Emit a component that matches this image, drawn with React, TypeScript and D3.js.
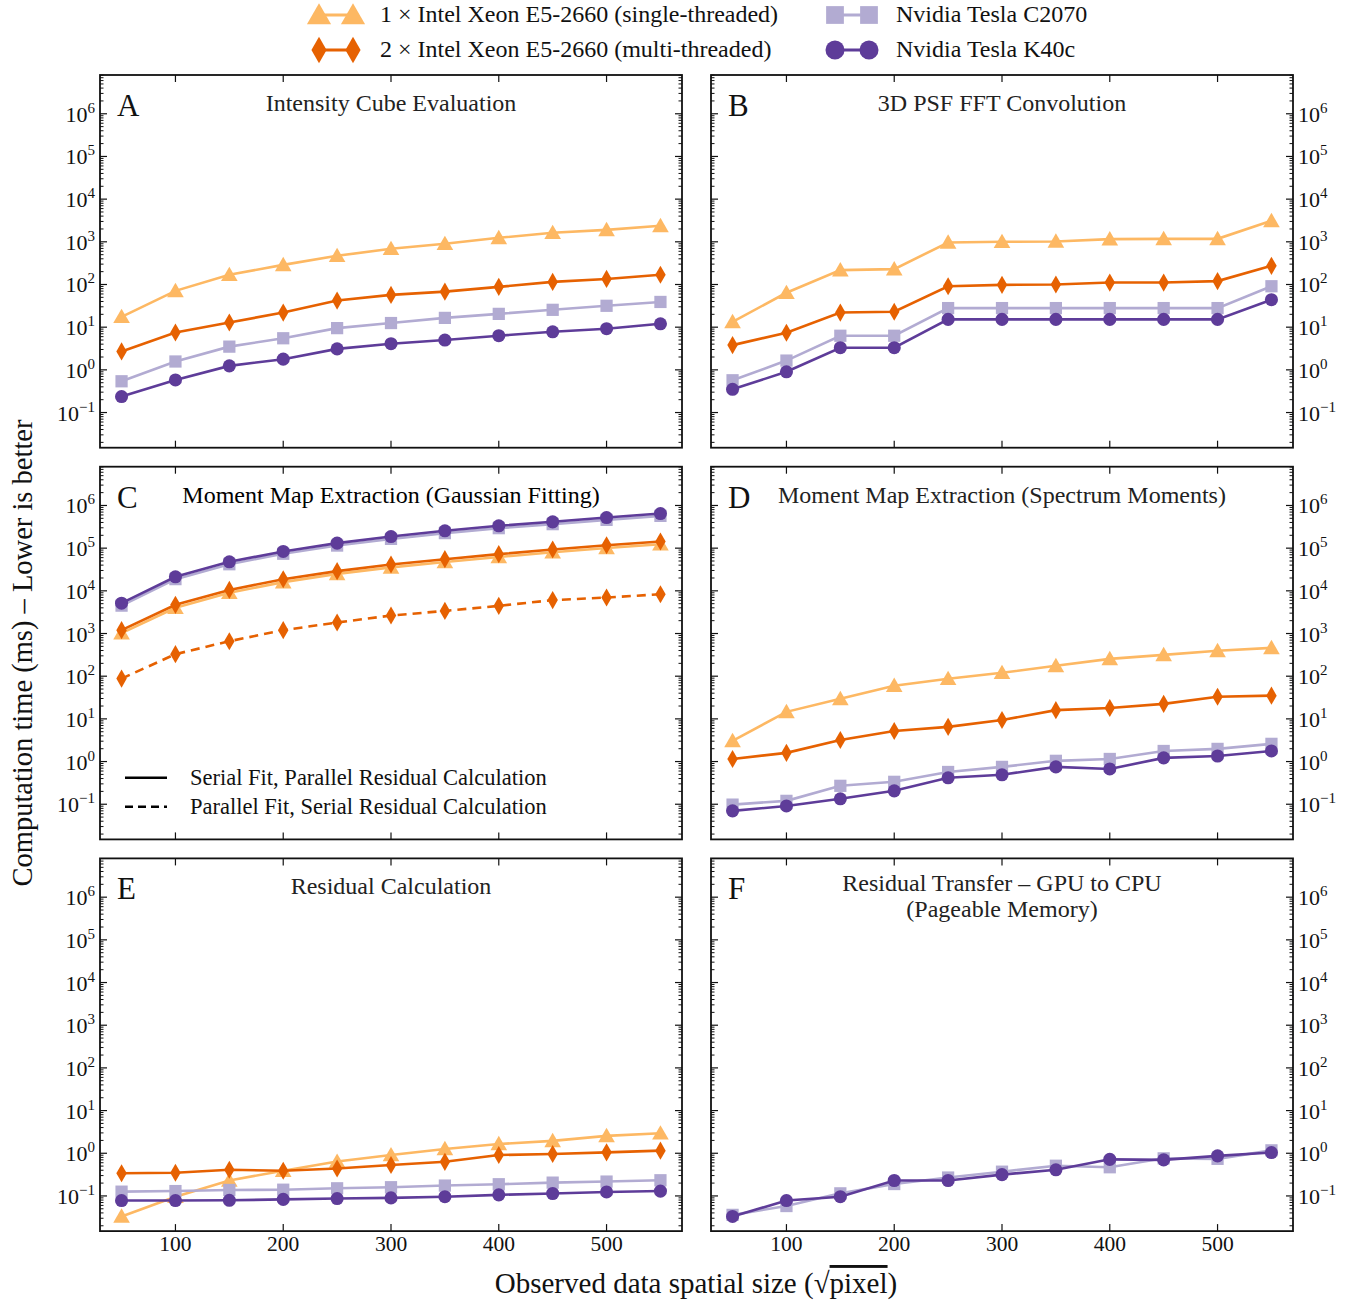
import React from "react";
import * as d3 from "d3";

// ---------- data ----------
const sizes = [50, 100, 150, 200, 250, 300, 350, 400, 450, 500, 550];

const seriesNames = [
  "1 × Intel Xeon E5-2660 (single-threaded)",
  "2 × Intel Xeon E5-2660 (multi-threaded)",
  "Nvidia Tesla C2070",
  "Nvidia Tesla K40c",
];

// Panel A: Intensity Cube Evaluation
const aXeon1 = [17.5, 71, 169, 288, 470, 686, 900, 1240, 1630, 1900, 2370];
const aXeon2 = [2.7, 7.5, 12.9, 22, 42, 57, 68, 88, 115, 135, 169];
const aC2070 = [0.54, 1.57, 3.5, 5.5, 9.5, 12.5, 16.5, 20.5, 25.5, 31.7, 39];
const aK40 = [0.237, 0.58, 1.24, 1.78, 3.1, 4.1, 5.0, 6.3, 7.8, 9.2, 12];

// Panel B: 3D PSF FFT Convolution
const bXeon1 = [13.3, 64, 217, 229, 965, 1000, 1018, 1155, 1175, 1175, 3100];
const bXeon2 = [3.8, 7.4, 22, 23, 91, 98, 100, 111, 111, 120, 274];
const bC2070 = [0.57, 1.65, 6.3, 6.3, 28, 28, 28, 28, 28, 28, 91];
const bK40 = [0.35, 0.9, 3.3, 3.3, 15.2, 15.2, 15.2, 15.2, 15.2, 15.2, 44];

// Panel C: Moment Map Extraction (Gaussian Fitting) – serial fit
const cXeon1 = [1020, 4000, 9000, 16000, 25000, 35500, 47500, 62000, 80000, 101000, 123000];
const cXeon2 = [1200, 4700, 10500, 18700, 28900, 41400, 55200, 72300, 93000, 117000, 143000];
const cC2070 = [4500, 18800, 42000, 74000, 115000, 165000, 225000, 294000, 365000, 460000, 570000];
const cK40 = [5130, 21300, 47900, 83700, 131000, 187000, 255000, 334000, 414000, 522000, 648000];
// Panel C: parallel fit, serial residual (multi-threaded Xeon)
const cXeon2Parallel = [88, 328, 660, 1200, 1810, 2640, 3380, 4450, 6060, 6970, 8300];

// Panel D: Moment Map Extraction (Spectrum Moments)
const dXeon1 = [3.06, 14.6, 29.5, 60, 87, 120, 175, 255, 316, 393, 462];
const dXeon2 = [1.15, 1.6, 3.2, 5.2, 6.5, 9.4, 16, 18, 22.5, 33, 35];
const dC2070 = [0.098, 0.12, 0.27, 0.335, 0.57, 0.75, 1.04, 1.15, 1.77, 1.98, 2.6];
const dK40 = [0.07, 0.091, 0.134, 0.206, 0.416, 0.49, 0.75, 0.67, 1.22, 1.35, 1.77];

// Panel E: Residual Calculation
const eXeon1 = [0.033, 0.096, 0.23, 0.39, 0.64, 0.91, 1.26, 1.65, 1.95, 2.55, 2.94];
const eXeon2 = [0.34, 0.35, 0.41, 0.39, 0.44, 0.53, 0.63, 0.91, 0.96, 1.05, 1.15];
const eC2070 = [0.126, 0.13, 0.138, 0.14, 0.151, 0.16, 0.175, 0.188, 0.205, 0.217, 0.233];
const eK40 = [0.078, 0.078, 0.079, 0.083, 0.087, 0.09, 0.096, 0.106, 0.114, 0.124, 0.13];

// Panel F: Residual Transfer – GPU to CPU (Pageable Memory)
const fC2070 = [0.036, 0.058, 0.115, 0.19, 0.27, 0.37, 0.51, 0.47, 0.76, 0.74, 1.17];
const fK40 = [0.033, 0.078, 0.096, 0.23, 0.23, 0.316, 0.41, 0.72, 0.7, 0.87, 1.04];

const panelLetters = ["A", "B", "C", "D", "E", "F"];
const panelTitles = [
  ["Intensity Cube Evaluation"],
  ["3D PSF FFT Convolution"],
  ["Moment Map Extraction (Gaussian Fitting)"],
  ["Moment Map Extraction (Spectrum Moments)"],
  ["Residual Calculation"],
  ["Residual Transfer – GPU to CPU", "(Pageable Memory)"],
];

const xTicks = [100, 200, 300, 400, 500];
const yExponents = [-1, 0, 1, 2, 3, 4, 5, 6];

const styleLegend = [
  "Serial Fit, Parallel Residual Calculation",
  "Parallel Fit, Serial Residual Calculation",
];

// ---------- styling ----------
const colors = ["#fdb863", "#e66101", "#b2abd2", "#5e3c99"];
const FONT = "'Liberation Serif', 'Times New Roman', serif";

const W = 1358;
const H = 1302;
const colLeft = [100, 711];
const rowTop = [75, 466.7, 858.4];
const PW = 582;
const PH = 372.7;

const xScaleBase = d3.scaleLinear().domain([30, 570]).range([0, PW]);
const yScaleBase = d3.scaleLog().domain([0.015, 8.1e6]).range([PH, 0]);

type Series = { idx: number; values: number[]; dashed?: boolean };

const panels: Series[][] = [
  [
    { idx: 0, values: aXeon1 },
    { idx: 1, values: aXeon2 },
    { idx: 2, values: aC2070 },
    { idx: 3, values: aK40 },
  ],
  [
    { idx: 0, values: bXeon1 },
    { idx: 1, values: bXeon2 },
    { idx: 2, values: bC2070 },
    { idx: 3, values: bK40 },
  ],
  [
    { idx: 1, values: cXeon2Parallel, dashed: true },
    { idx: 0, values: cXeon1 },
    { idx: 1, values: cXeon2 },
    { idx: 2, values: cC2070 },
    { idx: 3, values: cK40 },
  ],
  [
    { idx: 0, values: dXeon1 },
    { idx: 1, values: dXeon2 },
    { idx: 2, values: dC2070 },
    { idx: 3, values: dK40 },
  ],
  [
    { idx: 0, values: eXeon1 },
    { idx: 1, values: eXeon2 },
    { idx: 2, values: eC2070 },
    { idx: 3, values: eK40 },
  ],
  [
    { idx: 2, values: fC2070 },
    { idx: 3, values: fK40 },
  ],
];

const symbolTypes = [d3.symbolTriangle, d3.symbolDiamond, d3.symbolSquare, d3.symbolCircle];
const symbolSizes = [120, 95, 150, 135];

function Marker({ idx, x, y, scale = 1 }: { idx: number; x: number; y: number; scale?: number }) {
  const path = d3.symbol().type(symbolTypes[idx]).size(symbolSizes[idx] * scale * scale)()!;
  const dy = idx === 0 ? 1.5 * scale : 0;
  return <path d={path} transform={`translate(${x},${y + dy})`} fill={colors[idx]} stroke="none" />;
}

function Sup({ exp }: { exp: number }) {
  return (
    <>
      10
      <tspan dy={-9} fontSize={15}>
        {exp < 0 ? "−" + Math.abs(exp) : String(exp)}
      </tspan>
    </>
  );
}

function Panel({ pi }: { pi: number }) {
  const col = pi % 2;
  const row = Math.floor(pi / 2);
  const x0 = colLeft[col];
  const y0 = rowTop[row];
  const line = d3
    .line<number>()
    .x((_, i) => xScaleBase(sizes[i]))
    .y((v) => yScaleBase(v));

  const minorTicks: number[] = [];
  for (let e = -2; e <= 6; e++) {
    for (let m = 2; m <= 9; m++) {
      const v = m * Math.pow(10, e);
      if (v >= 0.015 && v <= 8.1e6) minorTicks.push(v);
    }
  }
  const majorTicks = yExponents.map((e) => Math.pow(10, e));
  const titleLines = panelTitles[pi];
  const cx = PW / 2;

  return (
    <g transform={`translate(${x0},${y0})`}>
      {panels[pi].map((s, k) => (
        <g key={k}>
          <path
            d={line(s.values)!}
            fill="none"
            stroke={colors[s.idx]}
            strokeWidth={2.6}
            strokeDasharray={s.dashed ? "9,6" : undefined}
          />
          {s.values.map((v, i) => (
            <Marker key={i} idx={s.idx} x={xScaleBase(sizes[i])} y={yScaleBase(v)} />
          ))}
        </g>
      ))}
      {xTicks.map((t) => (
        <g key={"x" + t}>
          <line x1={xScaleBase(t)} x2={xScaleBase(t)} y1={PH} y2={PH - 7} stroke="#111" strokeWidth={1.2} />
          <line x1={xScaleBase(t)} x2={xScaleBase(t)} y1={0} y2={7} stroke="#111" strokeWidth={1.2} />
          {row === 2 && (
            <text x={xScaleBase(t)} y={PH + 20} textAnchor="middle" fontSize={21.5} fontFamily={FONT} fill="#111">
              {t}
            </text>
          )}
        </g>
      ))}
      {majorTicks.map((t, i) => (
        <g key={"ym" + i}>
          <line x1={0} x2={7} y1={yScaleBase(t)} y2={yScaleBase(t)} stroke="#111" strokeWidth={1.2} />
          <line x1={PW} x2={PW - 7} y1={yScaleBase(t)} y2={yScaleBase(t)} stroke="#111" strokeWidth={1.2} />
          <text
            x={col === 0 ? -5 : PW + 5}
            y={yScaleBase(t) + 8}
            textAnchor={col === 0 ? "end" : "start"}
            fontSize={22}
            fontFamily={FONT}
            fill="#111"
          >
            <Sup exp={yExponents[i]} />
          </text>
        </g>
      ))}
      {minorTicks.map((t, i) => (
        <g key={"yn" + i}>
          <line x1={0} x2={3.5} y1={yScaleBase(t)} y2={yScaleBase(t)} stroke="#111" strokeWidth={1} />
          <line x1={PW} x2={PW - 3.5} y1={yScaleBase(t)} y2={yScaleBase(t)} stroke="#111" strokeWidth={1} />
        </g>
      ))}
      <rect x={0} y={0} width={PW} height={PH} fill="none" stroke="#111" strokeWidth={1.8} />
      <text x={17} y={41} fontSize={31} fontFamily={FONT} fill="#111">
        {panelLetters[pi]}
      </text>
      {titleLines.map((t, i) => (
        <text
          key={i}
          x={cx}
          y={(titleLines.length > 1 ? 33 : 36) + i * 26}
          textAnchor="middle"
          fontSize={24}
          fontFamily={FONT}
          fill={pi === 2 ? "#000" : "#222"}
        >
          {t}
        </text>
      ))}
      {pi === 2 &&
        styleLegend.map((t, i) => (
          <g key={"sl" + i} transform={`translate(0,${311 + i * 29})`}>
            <line x1={25} x2={67} y1={0} y2={0} stroke="#000" strokeWidth={2.4} strokeDasharray={i === 1 ? "8,5" : undefined} />
            <text x={90} y={7} fontSize={22.5} fontFamily={FONT} fill="#111">
              {t}
            </text>
          </g>
        ))}
    </g>
  );
}

function Legend() {
  const entries = [
    { idx: 0, x: 310, y: 15 },
    { idx: 1, x: 310, y: 50 },
    { idx: 2, x: 826, y: 15 },
    { idx: 3, x: 826, y: 50 },
  ];
  return (
    <g>
      {entries.map((e) => (
        <g key={e.idx}>
          <line x1={e.x + 9} x2={e.x + 43} y1={e.y} y2={e.y} stroke={colors[e.idx]} strokeWidth={3.2} />
          <Marker idx={e.idx} x={e.x + 9} y={e.y} scale={1.45} />
          <Marker idx={e.idx} x={e.x + 43} y={e.y} scale={1.45} />
          <text x={e.x + 70} y={e.y + 7} fontSize={24} fontFamily={FONT} fill="#111">
            {seriesNames[e.idx]}
          </text>
        </g>
      ))}
    </g>
  );
}

export default function App() {
  return (
    <svg
      width={W}
      height={H}
      style={{ display: "block", background: "#fff", position: "absolute", left: 0, top: 0 }}
    >
      <rect width={W} height={H} fill="#fff" />
      <Legend />
      {panelLetters.map((_, i) => (
        <Panel key={i} pi={i} />
      ))}
      <text
        transform={`translate(32,${(rowTop[0] + rowTop[2] + PH) / 2}) rotate(-90)`}
        textAnchor="middle"
        fontSize={28.5}
        fontFamily={FONT}
        fill="#111"
      >
        Computation time (ms) – Lower is better
      </text>
      <text x={696} y={1293} textAnchor="middle" fontSize={29} fontFamily={FONT} fill="#111">
        Observed data spatial size (√<tspan style={{ textDecoration: "overline" }}>pixel</tspan>)
      </text>
    </svg>
  );
}
